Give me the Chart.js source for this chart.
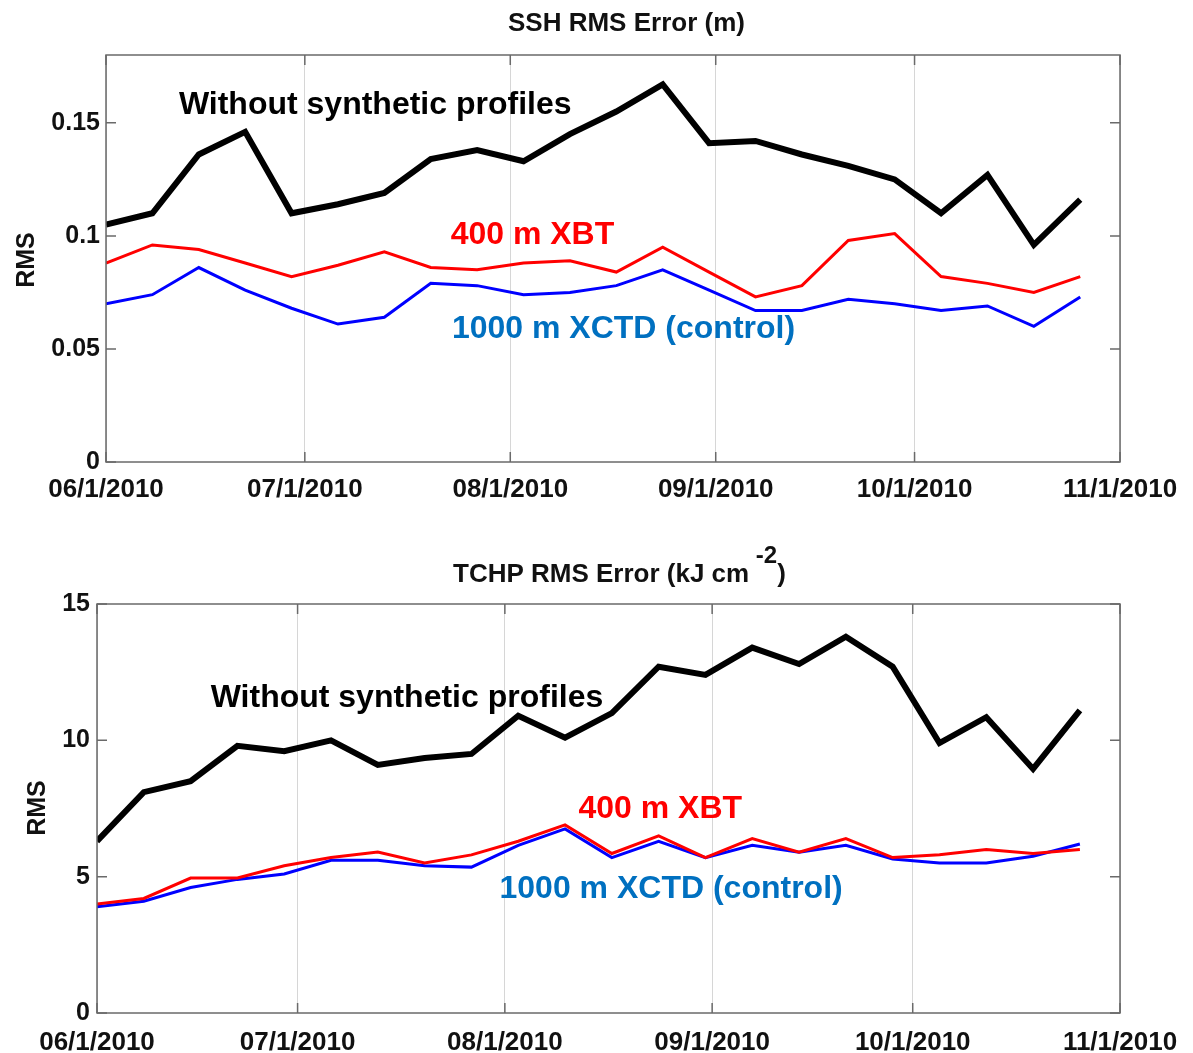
<!DOCTYPE html>
<html>
<head>
<meta charset="utf-8">
<script src="https://cdn.jsdelivr.net/npm/chart.js@4.4.0/dist/chart.umd.min.js"></script>
<style>
  body { margin: 0; background: #fff; }
  .panel { position: absolute; left: 0; width: 1193px; }
</style>
</head>
<body>
<div class="panel" style="top:0;height:530px"><canvas id="ssh"></canvas></div>
<div class="panel" style="top:530px;height:523px"><canvas id="tchp"></canvas></div>
<script>
// days after 06/1/2010 (weekly analyses)
const sampleDays = [0, 7, 14, 21, 28, 35, 42, 49, 56, 63, 70, 77, 84, 91, 98, 105, 112, 119, 126, 133, 140, 147];
const monthTickDays = [0, 30, 61, 92, 122, 153];
const monthTickLabels = ['06/1/2010', '07/1/2010', '08/1/2010', '09/1/2010', '10/1/2010', '11/1/2010'];

// SSH RMS error (m)
const sshTicks = [0, 0.05, 0.1, 0.15];
const sshWithout = [0.105, 0.110, 0.136, 0.146, 0.110, 0.114, 0.119, 0.134, 0.138, 0.133, 0.145, 0.155, 0.167, 0.141, 0.142, 0.136, 0.131, 0.125, 0.110, 0.127, 0.096, 0.116];
const sshXbt = [0.088, 0.096, 0.094, 0.088, 0.082, 0.087, 0.093, 0.086, 0.085, 0.088, 0.089, 0.084, 0.095, 0.084, 0.073, 0.078, 0.098, 0.101, 0.082, 0.079, 0.075, 0.082];
const sshXctd = [0.070, 0.074, 0.086, 0.076, 0.068, 0.061, 0.064, 0.079, 0.078, 0.074, 0.075, 0.078, 0.085, 0.076, 0.067, 0.067, 0.072, 0.070, 0.067, 0.069, 0.060, 0.073];

// TCHP RMS error (kJ cm-2)
const tchpTicks = [0, 5, 10, 15];
const tchpWithout = [6.3, 8.1, 8.5, 9.8, 9.6, 10.0, 9.1, 9.35, 9.5, 10.9, 10.1, 11.0, 12.7, 12.4, 13.4, 12.8, 13.8, 12.7, 9.9, 10.85, 8.95, 11.1];
const tchpXbt = [4.0, 4.2, 4.95, 4.95, 5.4, 5.7, 5.9, 5.5, 5.8, 6.3, 6.9, 5.85, 6.5, 5.7, 6.4, 5.9, 6.4, 5.7, 5.8, 6.0, 5.85, 6.0];
const tchpXctd = [3.9, 4.1, 4.6, 4.9, 5.1, 5.6, 5.6, 5.4, 5.35, 6.15, 6.75, 5.7, 6.3, 5.7, 6.15, 5.9, 6.15, 5.65, 5.5, 5.5, 5.75, 6.2];

const FONT = '"Liberation Sans", Arial, Helvetica, sans-serif';
const BLUE_TEXT = '#0070c0';

function pts(vals) {
    return sampleDays.map((d, i) => ({ x: d, y: vals[i] }));
}

// box around plot area plus inward tick marks
const framePlugin = {
    id: 'frame',
    afterDraw(chart) {
        const { ctx, chartArea: a, scales } = chart;
        ctx.save();
        ctx.strokeStyle = '#6a6a6a';
        ctx.lineWidth = 1.5;
        ctx.strokeRect(a.left, a.top, a.right - a.left, a.bottom - a.top);
        ctx.beginPath();
        scales.y.ticks.forEach(t => {
            const y = scales.y.getPixelForValue(t.value);
            ctx.moveTo(a.left, y); ctx.lineTo(a.left + 10, y);
            ctx.moveTo(a.right, y); ctx.lineTo(a.right - 10, y);
        });
        scales.x.ticks.forEach(t => {
            const x = scales.x.getPixelForValue(t.value);
            ctx.moveTo(x, a.top); ctx.lineTo(x, a.top + 10);
            ctx.moveTo(x, a.bottom); ctx.lineTo(x, a.bottom - 10);
        });
        ctx.stroke();
        ctx.restore();
    }
};

// titles, y label and curve labels
const notesPlugin = {
    id: 'notes',
    afterDraw(chart, args, opts) {
        const { ctx, scales } = chart;
        ctx.save();
        ctx.fillStyle = '#111';
        ctx.textBaseline = 'alphabetic';
        ctx.font = 'bold 26px ' + FONT;
        ctx.textAlign = 'left';
        let x = opts.title.x;
        opts.title.parts.forEach(p => {
            if (p.sup) {
                ctx.font = 'bold 24px ' + FONT;
                ctx.fillText(p.text, x, opts.title.y - 19);
                x += ctx.measureText(p.text).width;
                ctx.font = 'bold 26px ' + FONT;
            } else {
                ctx.fillText(p.text, x, opts.title.y);
                x += ctx.measureText(p.text).width;
            }
        });

        ctx.save();
        ctx.translate(opts.yLabel.x, opts.yLabel.y);
        ctx.rotate(-Math.PI / 2);
        ctx.textAlign = 'center';
        ctx.textBaseline = 'middle';
        ctx.font = 'bold 25px ' + FONT;
        ctx.fillText('RMS', 0, 0);
        ctx.restore();

        ctx.font = 'bold 32px ' + FONT;
        ctx.textBaseline = 'middle';
        ctx.textAlign = 'left';
        opts.labels.forEach(l => {
            ctx.fillStyle = l.color;
            ctx.fillText(l.text, scales.x.getPixelForValue(l.day), scales.y.getPixelForValue(l.value));
        });
        ctx.restore();
    }
};

function makeChart(id, p) {
    const ctx = document.getElementById(id).getContext('2d');
    return new Chart(ctx, {
        type: 'line',
        data: {
            datasets: [
                { data: pts(p.without), borderColor: '#000', borderWidth: 6 },
                { data: pts(p.xbt), borderColor: '#ff0000', borderWidth: 3 },
                { data: pts(p.xctd), borderColor: '#0000ff', borderWidth: 3 },
            ]
        },
        options: {
            responsive: true,
            maintainAspectRatio: false,
            animation: false,
            devicePixelRatio: 1,
            elements: { point: { radius: 0 }, line: { tension: 0 } },
            layout: { padding: p.padding },
            scales: {
                x: {
                    type: 'linear',
                    min: 0,
                    max: 153,
                    afterBuildTicks: s => { s.ticks = monthTickDays.map(v => ({ value: v })); },
                    afterFit: s => { s.height = 40; },
                    grid: { color: 'rgba(0,0,0,0.16)', lineWidth: 1, drawTicks: false, tickLength: 0 },
                    border: { display: false },
                    ticks: {
                        autoSkip: false,
                        maxRotation: 0,
                        padding: p.xPad,
                        color: '#111',
                        font: { family: FONT, size: 26, weight: 'bold' },
                        callback: (v, i) => monthTickLabels[i]
                    }
                },
                y: {
                    min: 0,
                    max: p.yMax,
                    afterBuildTicks: s => { s.ticks = p.yTicks.map(v => ({ value: v })); },
                    afterFit: s => { s.width = p.yWidth; },
                    grid: { display: false, drawTicks: false, tickLength: 0 },
                    border: { display: false },
                    ticks: {
                        padding: p.yPad,
                        color: '#111',
                        font: { family: FONT, size: 25, weight: 'bold' },
                        callback: v => String(v)
                    }
                }
            },
            plugins: {
                legend: { display: false },
                tooltip: { enabled: false },
                notes: p.notes
            }
        },
        plugins: [framePlugin, notesPlugin]
    });
}

makeChart('ssh', {
    without: sshWithout, xbt: sshXbt, xctd: sshXctd,
    yMax: 0.18, yTicks: sshTicks, yWidth: 106, yPad: 6, xPad: 12,
    padding: { top: 55, right: 73, bottom: 28, left: 0 },
    notes: {
        title: { x: 508, y: 31, parts: [{ text: 'SSH RMS Error (m)' }] },
        yLabel: { x: 27, y: 260 },
        labels: [
            { text: 'Without synthetic profiles', color: '#000', day: 11, value: 0.158 },
            { text: '400 m XBT', color: '#ff0000', day: 52, value: 0.1005 },
            { text: '1000 m XCTD (control)', color: BLUE_TEXT, day: 52.2, value: 0.0588 }
        ]
    }
});

makeChart('tchp', {
    without: tchpWithout, xbt: tchpXbt, xctd: tchpXctd,
    yMax: 15, yTicks: tchpTicks, yWidth: 97, yPad: 7, xPad: 14,
    padding: { top: 74, right: 73, bottom: 0, left: 0 },
    notes: {
        title: { x: 453, y: 52, parts: [{ text: 'TCHP RMS Error (kJ cm' }, { text: ' -2', sup: true }, { text: ')' }] },
        yLabel: { x: 38, y: 278 },
        labels: [
            { text: 'Without synthetic profiles', color: '#000', day: 17, value: 11.55 },
            { text: '400 m XBT', color: '#ff0000', day: 72, value: 7.48 },
            { text: '1000 m XCTD (control)', color: BLUE_TEXT, day: 60.2, value: 4.55 }
        ]
    }
});
</script>
</body>
</html>
